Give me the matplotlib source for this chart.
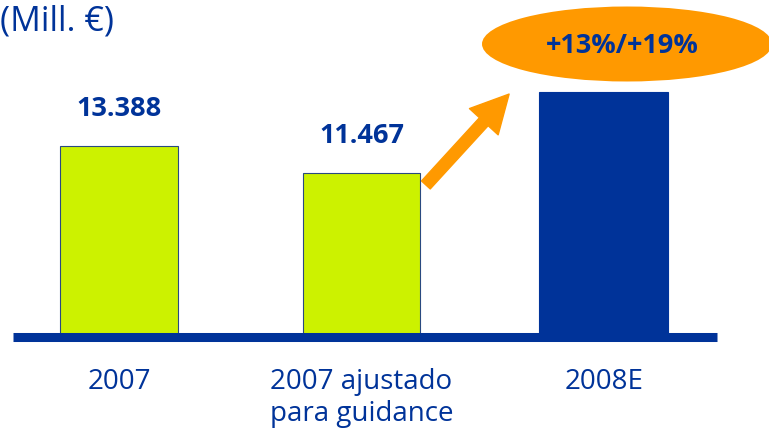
import numpy as np
import matplotlib.pyplot as plt
from matplotlib.patches import Ellipse, FancyArrowPatch

# data
categories = ['2007', '2007 ajustado\npara guidance', '2008E']
values = [13388, 11467, 17200]
value_labels = ['13.388', '11.467', '']
growth_label = '+13%/+19%'
unit_label = '(Mill. €)'

# style
navy = '#003399'
lime = '#CCF200'
orange = '#FF9900'
plt.rcParams['font.family'] = ['Open Sans', 'DejaVu Sans']

fig = plt.figure(figsize=(7.69, 4.30), dpi=100)
ax = fig.add_axes([13 / 769, 93.5 / 430, 704 / 769, 336.5 / 430])

x = np.arange(len(categories))
widths = [0.487, 0.483, 0.532]
colors = [lime, lime, navy]
edges = ['#2a4a80', '#2a4a80', navy]
ax.bar(x, values, width=widths, color=colors, edgecolor=edges, linewidth=0.8, zorder=2)

# base line
ax.axhline(0, color=navy, lw=6.5, zorder=3, clip_on=False, solid_capstyle='butt')

ax.set_xlim(-0.437, 2.466)
ax.set_ylim(0, 23650)

for xi, v, lab in zip(x, values, value_labels):
    if lab:
        ax.annotate(lab, (xi, v), xytext=(0, 27), textcoords='offset points',
                    ha='center', va='center', fontsize=19.5, fontweight='bold', color=navy)

ax.set_xticks(x)
ax.set_xticklabels(categories, fontsize=20, color=navy, linespacing=1.15)
ax.tick_params(axis='x', length=0, pad=23)
ax.set_yticks([])
for s in ax.spines.values():
    s.set_visible(False)

fig.text(0, 1 - 4 / 430, unit_label, ha='left', va='top', fontsize=24.5, color=navy)

# growth ellipse
ell = Ellipse((627 / 769, 1 - 44 / 430), 290 / 769, 75 / 430, transform=fig.transFigure,
              facecolor=orange, edgecolor='none', zorder=5)
fig.add_artist(ell)
fig.text(622 / 769, 1 - 46 / 430, growth_label, ha='center', va='center',
         fontsize=19.5, fontweight='bold', color=navy, zorder=6)

# arrow
arr = FancyArrowPatch((424, 430 - 187), (511, 430 - 92), transform=None,
                      arrowstyle='simple,head_length=27,head_width=28,tail_width=8.5',
                      mutation_scale=1, color=orange, zorder=4)
fig.add_artist(arr)

fig.savefig('out.png', dpi=100)
